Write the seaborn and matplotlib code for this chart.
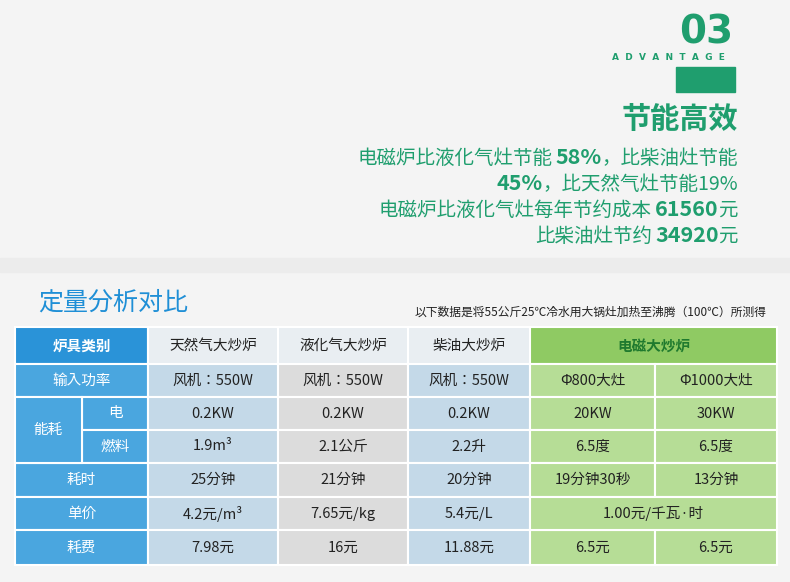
import matplotlib
matplotlib.use("Agg")
import matplotlib.pyplot as plt
from matplotlib.patches import Rectangle
from matplotlib import font_manager
import seaborn as sns

sns.set_theme(style="white")
names = {f.name for f in font_manager.fontManager.ttflist}
cjk = [n for n in ["Noto Sans CJK SC", "Noto Sans CJK JP", "Noto Sans CJK TC", "Noto Sans CJK KR", "Noto Sans SC"] if n in names]
FONTS = cjk + ["DejaVu Sans"]
plt.rcParams["font.family"] = "sans-serif"
plt.rcParams["font.sans-serif"] = FONTS

# ---- data ----
headers = ["炉具类别", "天然气大炒炉", "液化气大炒炉", "柴油大炒炉", "电磁大炒炉"]
row_labels = ["输入功率", "电", "燃料", "耗时", "单价", "耗费"]
natural_gas = ["风机：550W", "0.2KW", "1.9m³", "25分钟", "4.2元/m³", "7.98元"]
lpg = ["风机：550W", "0.2KW", "2.1公斤", "21分钟", "7.65元/kg", "16元"]
diesel = ["风机：550W", "0.2KW", "2.2升", "20分钟", "5.4元/L", "11.88元"]
induction_800 = ["Φ800大灶", "20KW", "6.5度", "19分钟30秒", None, "6.5元"]
induction_1000 = ["Φ1000大灶", "30KW", "6.5度", "13分钟", None, "6.5元"]
induction_price = "1.00元/千瓦·时"

GREEN = "#1f9e6e"
fig = plt.figure(figsize=(7.9, 5.82), dpi=100)
ax = fig.add_axes([0, 0, 1, 1])
ax.set_xlim(0, 790); ax.set_ylim(582, 0); ax.axis("off")
ax.add_patch(Rectangle((0, 0), 790, 582, color="#f4f4f4", zorder=0))
ax.add_patch(Rectangle((0, 258), 790, 14, color="#ececec", zorder=0))

ax.text(706, 32, "03", fontsize=28, fontweight="bold", color=GREEN, ha="center", va="center", family="DejaVu Sans")
ax.text(668, 58, "A  D  V  A  N  T  A  G  E", fontsize=6.5, fontweight="bold", color=GREEN, ha="center", va="center", family="DejaVu Sans")
ax.add_patch(Rectangle((676, 67), 59, 25, color=GREEN))
ax.text(738, 119, "节能高效", fontsize=21, fontweight="bold", color=GREEN, ha="right", va="center")

lines = [
    [("电磁炉比液化气灶节能", False), ("58%", True), ("，比柴油灶节能", False)],
    [("45%", True), ("，比天然气灶节能19%", False)],
    [("电磁炉比液化气灶每年节约成本", False), ("61560", True), ("元", False)],
    [("比柴油灶节约", False), ("34920", True), ("元", False)],
]
ys = [158, 184, 210, 236]
fig.canvas.draw()
r = fig.canvas.get_renderer()
inv = ax.transData.inverted()
for parts, y in zip(lines, ys):
    x = 738
    for s, b in reversed(parts):
        t = ax.text(x, y, s, fontsize=14 if not b else 15.5, fontweight="bold" if b else "normal",
                    color=GREEN, ha="right", va="center")
        bb = t.get_window_extent(r)
        x = inv.transform((bb.x0, bb.y0))[0] - (3 if b else 0)

ax.text(38, 303, "定量分析对比", fontsize=18, color="#1f8fd6", style="italic", ha="left", va="center")
ax.text(766, 312, "以下数据是将55公斤25℃冷水用大锅灶加热至沸腾（100℃）所测得", fontsize=8.5, color="#222", ha="right", va="center")

# table
xs = [15, 148, 278, 408, 530, 655, 777]
yr = [327, 364, 397, 430, 463, 497, 530, 565]
col_bg = ["#c4d9e8", "#dcdcdc", "#c4d9e8", "#b6dd96", "#b6dd96"]
hdr_bg = ["#2a93d8", "#e9eef2", "#e9eef2", "#e9eef2", "#8fca63"]
lw = 1.5
def cell(x0, y0, x1, y1, c):
    ax.add_patch(Rectangle((x0, y0), x1 - x0, y1 - y0, facecolor=c, edgecolor="white", lw=lw))

cell(xs[0], yr[0], xs[1], yr[1], hdr_bg[0])
ax.text((xs[0] + xs[1]) / 2, (yr[0] + yr[1]) / 2, headers[0], fontsize=10.5, fontweight="bold", color="white", ha="center", va="center")
for i in range(1, 4):
    cell(xs[i], yr[0], xs[i + 1], yr[1], hdr_bg[i])
    ax.text((xs[i] + xs[i + 1]) / 2, (yr[0] + yr[1]) / 2, headers[i], fontsize=10.5, color="#222", ha="center", va="center")
cell(xs[4], yr[0], xs[6], yr[1], hdr_bg[4])
ax.text((xs[4] + xs[6]) / 2, (yr[0] + yr[1]) / 2, headers[4], fontsize=10.5, fontweight="bold", color="#1f7a2e", ha="center", va="center")

lab_bg = "#4aa6df"
for k, lab in enumerate(row_labels):
    y0, y1 = yr[k + 1], yr[k + 2]
    x0 = 82 if k in (1, 2) else xs[0]
    cell(x0, y0, xs[1], y1, lab_bg)
    ax.text((x0 + xs[1]) / 2, (y0 + y1) / 2, lab, fontsize=10.5, color="white", ha="center", va="center")
cell(xs[0], yr[2], 82, yr[4], lab_bg)
ax.text((xs[0] + 82) / 2, (yr[2] + yr[4]) / 2, "能耗", fontsize=10.5, color="white", ha="center", va="center")

cols = [natural_gas, lpg, diesel, induction_800, induction_1000]
for j, col in enumerate(cols):
    for k, v in enumerate(col):
        y0, y1 = yr[k + 1], yr[k + 2]
        if v is None:
            continue
        cell(xs[j + 1], y0, xs[j + 2], y1, col_bg[j])
        ax.text((xs[j + 1] + xs[j + 2]) / 2, (y0 + y1) / 2, v, fontsize=10.5, color="#222", ha="center", va="center")
cell(xs[4], yr[5], xs[6], yr[6], col_bg[3])
ax.text((xs[4] + xs[6]) / 2, (yr[5] + yr[6]) / 2, induction_price, fontsize=10.5, color="#222", ha="center", va="center")

fig.savefig("out.png", dpi=100)
